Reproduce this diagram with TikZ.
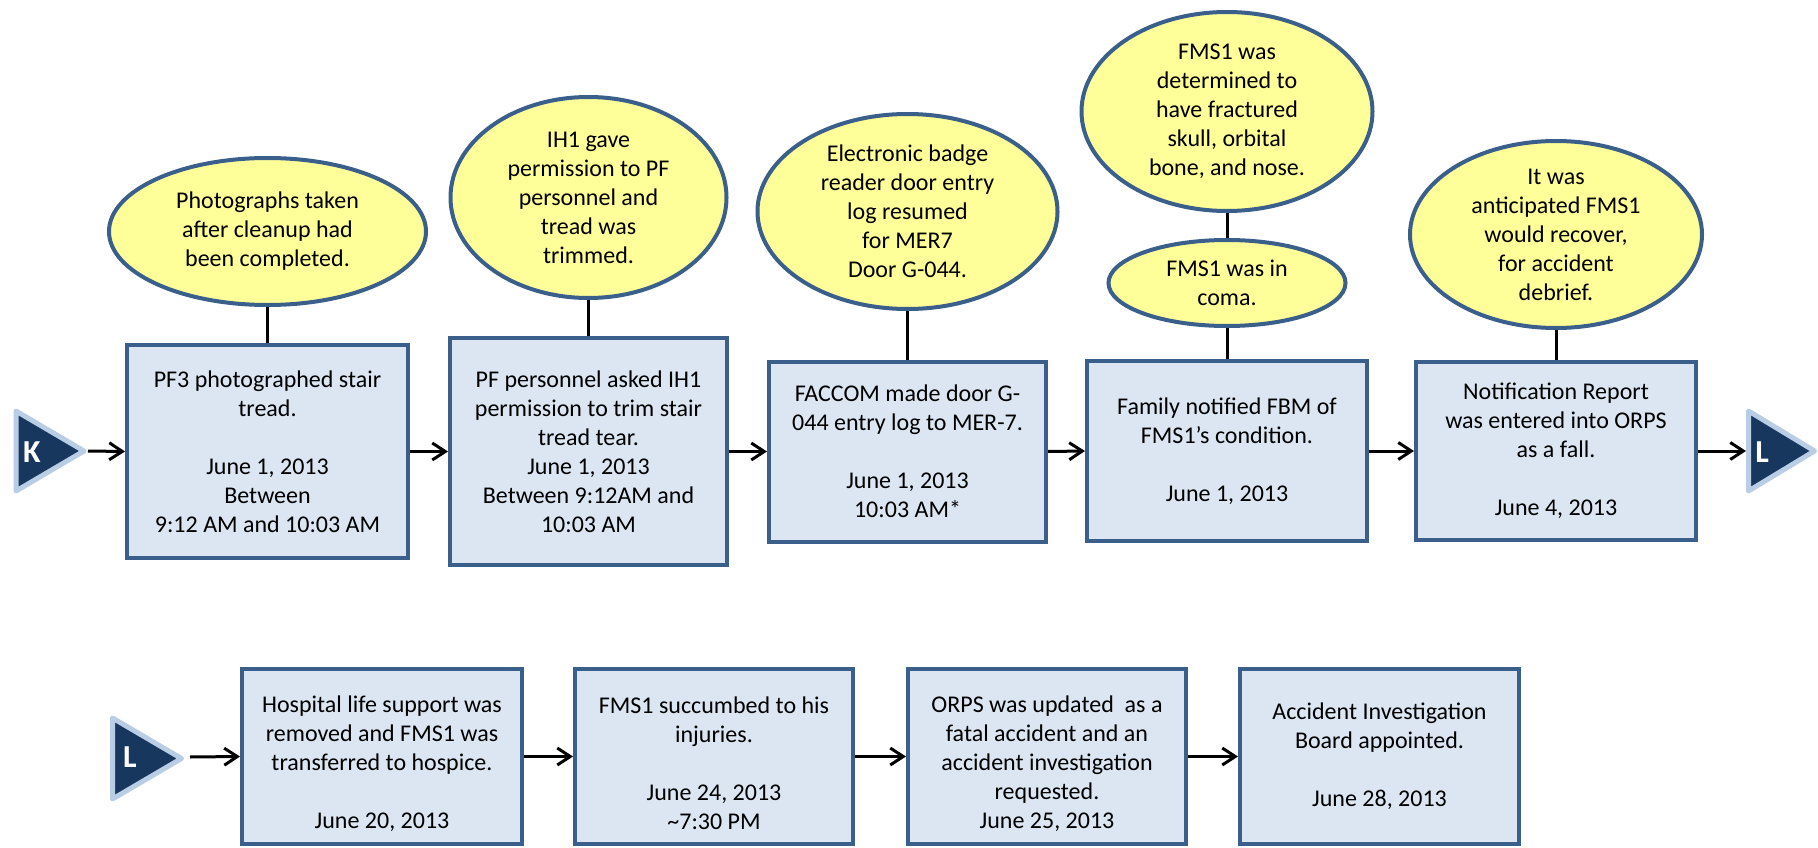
\documentclass[tikz,border=0pt]{standalone}
\usepackage{fontspec}
\setmainfont{Carlito}
\usetikzlibrary{shapes.geometric,arrows.meta,backgrounds}
\definecolor{evfill}{HTML}{DCE6F2}
\definecolor{evline}{HTML}{3A5F8B}
\definecolor{notefill}{HTML}{FFFF99}
\definecolor{tagfill}{HTML}{17375E}
\definecolor{tagline}{HTML}{B9CDE5}
% extra headroom on the first line pushes a text block a little lower in its box
\newcommand{\topgap}{\rule{0pt}{31pt}}

\begin{document}
\begin{tikzpicture}[x=1pt,y=-1pt,
  txt/.style={font=\fontsize{24}{29}\selectfont, align=center, inner sep=0pt},
  event/.style={draw=evline, fill=evfill, line width=4pt, rectangle, inner sep=0pt, txt},
  bubble/.style={draw=evline, fill=notefill, line width=4pt, ellipse, inner sep=0pt},
  tag/.style={fill=tagfill, draw=tagline, line width=5pt, line join=round},
  tagletter/.style={text=white, font=\fontsize{32}{36}\selectfont\bfseries, inner sep=0pt},
  flow/.style={line width=3pt, -{Straight Barb[length=13pt,width=17pt]}},
  link/.style={line width=3pt},
]
\useasboundingbox (0,0) rectangle (1818,848);

% ---- top row of events ----
\node[event, minimum width=281pt, minimum height=213pt] (b1) at (267.5,451.5)
  {PF3 photographed stair\\tread.\\[29pt]June 1, 2013\\Between\\9:12 AM and 10:03 AM};
\node[event, minimum width=277pt, minimum height=227pt] (b2) at (588.5,451.5)
  {PF personnel asked IH1\\permission to trim stair\\tread tear.\\June 1, 2013\\Between 9:12AM and\\10:03 AM};
\node[event, minimum width=277pt, minimum height=180pt] (b3) at (907.5,451.5)
  {FACCOM made door G-\\044 entry log to MER-7.\\[29pt]June 1, 2013\\10:03 AM*};
\node[event, minimum width=280pt, minimum height=180pt] (b4) at (1227,451)
  {Family notified FBM of\\FMS1’s condition.\\[29pt]June 1, 2013};
\node[event, minimum width=280pt, minimum height=178pt] (b5) at (1556,451)
  {Notification Report\\was entered into ORPS\\as a fall.\\[29pt]June 4, 2013};

% ---- notes above the events ----
\node[bubble, minimum width=317pt, minimum height=147pt] (e1) at (267.5,231.5) {};
\node[txt] (e1t) at (e1) {Photographs taken\\after cleanup had\\been completed.};
\node[bubble, minimum width=276pt, minimum height=201pt] (e2) at (588.5,197.5) {};
\node[txt] (e2t) at (e2) {IH1 gave\\permission to PF\\personnel and\\tread was\\trimmed.};
\node[bubble, minimum width=300pt, minimum height=195pt] (e3) at (907.5,211.5) {};
\node[txt] (e3t) at (e3) {Electronic badge\\reader door  entry\\log resumed\\for MER7\\Door G-044.};
\node[bubble, minimum width=291pt, minimum height=199pt] (e4) at (1227,111.5) {};
\node[txt] (e4t) at (e4) {FMS1 was\\determined to\\have fractured\\skull, orbital\\bone, and nose.};
\node[bubble, minimum width=237pt, minimum height=86pt] (e4b) at (1227,283) {};
\node[txt] (e4bt) at (e4b) {FMS1 was in\\coma.};
\node[bubble, minimum width=292pt, minimum height=187pt] (e5) at (1556,234.5) {};
\node[txt] (e5t) at (e5) {It was\\anticipated FMS1\\would recover,\\for accident\\debrief.};

% ---- bottom row of events ----
\node[event, minimum width=280pt, minimum height=175pt] (c1) at (382,756.5)
  {\topgap Hospital life support was\\removed and FMS1 was\\transferred to hospice.\\[29pt]June 20, 2013};
\node[event, minimum width=278pt, minimum height=175pt] (c2) at (714,756.5)
  {\topgap FMS1 succumbed to his\\injuries.\\[29pt]June 24, 2013\\\textasciitilde7:30 PM};
\node[event, minimum width=278pt, minimum height=175pt] (c3) at (1047,756.5)
  {\topgap ORPS was updated \ as a\\fatal accident and an\\accident investigation\\requested.\\June 25, 2013};
\node[event, minimum width=279pt, minimum height=175pt] (c4) at (1379.5,756.5)
  {Accident Investigation\\Board appointed.\\[29pt]June 28, 2013};

% ---- off-page connector tags ----
\filldraw[tag] (16,411) -- (16,491) -- (84,451) -- cycle;
\node[tagletter] (kTag) at (32,452) {K};
\coordinate (kTip) at (88,451);

\filldraw[tag] (1748.5,411) -- (1748.5,491) -- (1814.5,451) -- cycle;
\node[tagletter] (lOut) at (1762,452) {L};
\coordinate (lOutIn) at (1746,451);

\filldraw[tag] (112.5,718) -- (112.5,799) -- (181.5,758.5) -- cycle;
\node[tagletter] (lIn) at (130,757) {L};
\coordinate (lInTip) at (190,757);

% ---- connectors ----
\begin{scope}[on background layer]
  \draw[link] (e1.south) -- (b1.north);
  \draw[link] (e2.south) -- (b2.north);
  \draw[link] (e3.south) -- (b3.north);
  \draw[link] (e4.south) -- (e4b.north);
  \draw[link] (e4b.south) -- (b4.north);
  \draw[link] (e5.south) -- (b5.north);

  \draw[flow] (kTip) -- (b1.west);
  \draw[flow] (b1.east) -- (b2.west);
  \draw[flow] (b2.east) -- (b3.west);
  \draw[flow] (b3.east) -- (b4.west);
  \draw[flow] (b4.east) -- (b5.west);
  \draw[flow] (b5.east) -- (lOutIn);

  \draw[flow] (lInTip) -- (c1.west);
  \draw[flow] (c1.east) -- (c2.west);
  \draw[flow] (c2.east) -- (c3.west);
  \draw[flow] (c3.east) -- (c4.west);
\end{scope}
\end{tikzpicture}
\end{document}
